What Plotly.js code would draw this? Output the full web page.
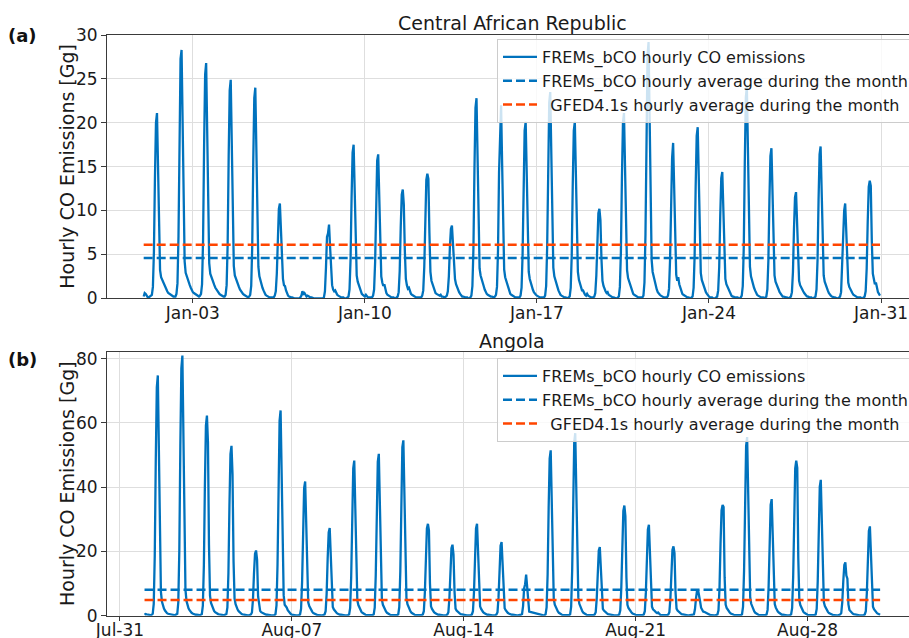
<!DOCTYPE html>
<html>
<head>
<meta charset="utf-8">
<script src="https://cdn.plot.ly/plotly-3.0.1.min.js"></script>
<style>
  html, body { margin: 0; padding: 0; background: #fff; overflow: hidden; width: 909px; height: 638px; }
  #chart { width: 909px; height: 638px; overflow: hidden; }
</style>
</head>
<body>
<div id="chart"></div>
<script>
// FREMs_bCO hourly CO emissions [Gg], one row per day, hours 00..23 (UTC)
const carHourly = [
  [0.2,0.6,0.5,0.3,0.1,0.1,0.2,0.2,0.4,1.3,5.3,13.7,20.0,21.1,14.8,7.4,3.2,2.4,2.1,1.8,1.6,1.2,1.0,0.8],
  [0.6,0.5,0.4,0.3,0.3,0.2,0.2,0.2,0.5,1.7,7.1,18.4,27.3,28.3,19.8,9.9,4.2,2.9,2.5,2.1,1.8,1.5,1.2,0.9],
  [0.7,0.6,0.5,0.4,0.3,0.3,0.2,0.3,0.5,1.6,6.7,17.4,25.5,26.8,18.8,9.4,4.0,2.8,2.4,2.0,1.7,1.5,1.2,1.0],
  [0.8,0.6,0.5,0.4,0.3,0.2,0.2,0.2,0.4,1.5,6.2,16.2,23.7,24.9,17.4,8.7,3.7,2.6,2.2,1.9,1.7,1.3,1.0,0.8],
  [0.6,0.5,0.4,0.3,0.2,0.2,0.1,0.2,0.4,1.4,6.0,15.6,22.8,24.0,16.8,8.4,3.6,2.5,2.0,1.6,1.2,0.9,0.6,0.4],
  [0.3,0.2,0.2,0.1,0.1,0.1,0.1,0.1,0.3,0.8,2.8,7.0,10.2,10.8,7.6,4.0,2.2,1.5,1.4,0.9,0.5,0.3,0.2,0.1],
  [0.1,0.1,0.0,0.0,0.0,0.0,0.0,0.0,0.0,0.1,0.3,0.8,0.5,0.6,0.3,0.2,0.3,0.2,0.1,0.1,0.1,0.0,0.0,0.0],
  [0.0,0.0,0.0,0.0,0.0,0.0,0.0,0.0,0.1,0.8,3.5,7.0,7.4,8.4,5.9,3.1,1.5,1.0,0.8,0.9,0.6,0.4,0.3,0.2],
  [0.2,0.1,0.1,0.1,0.0,0.0,0.0,0.1,0.2,1.0,4.4,11.4,16.6,17.5,12.3,6.1,2.6,1.9,1.5,1.2,0.9,0.5,0.4,0.3],
  [0.2,0.4,0.2,0.1,0.1,0.1,0.1,0.1,0.3,1.0,4.1,10.7,15.7,16.4,11.5,5.7,2.5,1.8,1.4,1.6,1.0,0.6,0.4,0.3],
  [0.2,0.1,0.1,0.1,0.1,0.0,0.0,0.1,0.2,0.7,3.1,8.1,11.8,12.4,10.7,5.5,2.2,1.5,1.1,1.2,0.8,0.5,0.4,0.3],
  [0.2,0.2,0.1,0.1,0.1,0.1,0.1,0.1,0.3,0.9,3.6,9.2,13.5,14.2,13.6,7.5,3.0,2.0,1.6,1.3,1.1,0.6,0.5,0.4],
  [0.3,0.3,0.4,0.2,0.2,0.1,0.1,0.2,0.3,0.8,2.5,5.8,7.9,8.3,5.9,4.0,2.2,1.6,1.2,0.9,0.7,0.5,0.3,0.2],
  [0.2,0.1,0.1,0.1,0.1,0.0,0.0,0.1,0.3,1.4,5.7,14.8,21.7,22.8,16.0,8.0,3.4,2.6,2.1,1.8,1.4,1.0,0.7,0.5],
  [0.4,0.3,0.3,0.2,0.2,0.1,0.1,0.2,0.4,1.3,5.5,14.3,19.6,22.0,15.4,7.7,3.3,2.4,2.0,1.6,1.2,0.8,0.5,0.4],
  [0.3,0.2,0.2,0.1,0.1,0.1,0.1,0.1,0.3,1.2,5.0,13.1,19.1,20.1,14.1,7.0,3.0,2.2,1.7,1.3,1.0,0.7,0.5,0.4],
  [0.3,0.2,0.2,0.1,0.1,0.1,0.1,0.1,0.3,1.4,5.9,15.3,22.3,23.5,16.5,8.2,3.5,2.5,2.0,1.7,1.3,0.9,0.6,0.4],
  [0.3,0.2,0.1,0.1,0.1,0.0,0.0,0.1,0.2,1.2,5.0,13.1,19.1,20.1,14.1,7.0,3.0,2.1,1.6,1.2,0.9,0.9,0.6,0.4],
  [0.3,0.5,0.3,0.2,0.1,0.1,0.1,0.1,0.2,0.6,2.6,6.6,9.7,10.2,8.9,4.5,2.0,1.4,1.0,0.8,0.6,0.7,0.4,0.3],
  [0.2,0.1,0.1,0.1,0.0,0.0,0.0,0.1,0.2,1.3,5.3,13.7,20.0,21.1,14.8,7.4,3.2,2.3,1.9,1.5,1.2,0.8,0.5,0.4],
  [0.3,0.2,0.2,0.1,0.1,0.1,0.1,0.1,0.3,1.8,7.3,19.0,27.7,29.2,20.4,10.2,4.4,3.0,2.4,1.9,1.4,1.0,0.7,0.5],
  [0.4,0.3,0.2,0.2,0.1,0.1,0.1,0.1,0.3,1.1,4.4,11.5,16.0,17.7,12.4,6.2,2.7,2.0,2.4,1.6,1.2,0.8,0.5,0.4],
  [0.3,0.2,0.2,0.1,0.1,0.0,0.0,0.1,0.2,1.2,4.9,12.7,18.5,19.5,13.7,6.8,2.9,2.1,1.7,1.3,1.0,0.7,0.5,0.3],
  [0.2,0.1,0.1,0.1,0.0,0.0,0.0,0.1,0.2,0.9,3.6,9.4,13.7,14.4,10.1,5.0,2.2,1.6,1.3,1.0,0.8,0.5,0.3,0.2],
  [0.2,0.1,0.1,0.1,0.1,0.0,0.0,0.1,0.3,1.4,6.0,15.7,22.9,24.1,16.9,8.4,3.6,2.5,2.0,1.6,1.2,0.9,0.6,0.4],
  [0.3,0.2,0.2,0.1,0.1,0.1,0.0,0.1,0.2,1.0,4.3,11.1,16.2,17.1,12.0,6.0,2.6,1.9,1.5,1.2,1.0,0.7,0.5,0.3],
  [0.2,0.2,0.1,0.1,0.1,0.0,0.0,0.1,0.2,0.7,3.0,7.9,11.5,12.1,8.5,4.2,2.0,1.5,1.2,1.0,0.8,0.6,0.4,0.3],
  [0.2,0.2,0.1,0.1,0.1,0.0,0.0,0.1,0.2,1.0,4.3,11.2,16.4,17.3,12.1,6.1,2.6,1.9,1.5,1.2,0.9,0.6,0.4,0.3],
  [0.2,0.1,0.1,0.1,0.0,0.0,0.0,0.1,0.2,0.7,3.5,8.0,10.0,10.8,7.6,3.8,1.8,1.3,1.0,0.8,0.6,0.4,0.3,0.2],
  [0.2,0.1,0.1,0.1,0.1,0.0,0.0,0.1,0.2,0.8,3.4,8.7,12.7,13.4,12.8,6.5,2.8,2.2,1.6,1.8,1.1,0.7,0.5,0.3]
];

const angHourly = [
  [0.3,0.5,0.4,0.3,0.2,0.2,0.2,0.3,0.6,3.7,18.7,48.6,71.1,74.8,48.6,18.7,7.5,4.4,3.1,2.2,1.6,1.1,0.8,0.6],
  [0.5,0.4,0.3,0.3,0.2,0.2,0.2,0.3,0.6,4.1,20.3,52.7,77.0,81.0,52.7,20.3,8.1,4.6,3.2,2.3,1.7,1.2,0.9,0.7],
  [0.5,0.4,0.3,0.3,0.2,0.2,0.2,0.3,0.5,3.1,15.6,40.5,59.2,62.3,54.0,22.0,6.2,4.0,2.9,2.1,1.5,1.1,0.8,0.6],
  [0.5,0.4,0.3,0.2,0.2,0.2,0.2,0.3,0.5,2.6,13.2,34.4,50.3,52.9,44.0,17.0,5.3,3.6,2.6,1.9,1.4,1.0,0.7,0.5],
  [0.4,0.3,0.3,0.2,0.2,0.1,0.1,0.2,0.4,1.0,5.1,13.2,19.3,20.3,17.5,6.0,2.5,1.5,1.1,0.9,0.7,0.5,0.4,0.3],
  [0.3,0.2,0.2,0.2,0.1,0.1,0.1,0.2,0.5,3.2,16.0,41.5,60.7,63.9,41.5,16.0,6.4,3.4,3.0,2.5,1.7,1.2,0.8,0.5],
  [0.3,0.2,0.2,0.1,0.1,0.1,0.1,0.2,0.4,2.1,10.5,27.2,39.7,41.8,27.2,10.5,4.2,3.0,2.2,1.6,1.2,0.8,0.6,0.4],
  [0.3,0.2,0.2,0.1,0.1,0.1,0.1,0.2,0.4,1.4,6.8,17.7,25.9,27.3,17.7,6.8,2.7,2.0,1.5,1.1,0.8,0.6,0.4,0.3],
  [0.3,0.2,0.2,0.1,0.1,0.1,0.1,0.2,0.4,2.4,12.1,31.4,45.9,48.3,31.4,12.1,4.8,3.3,2.4,1.7,1.2,0.9,0.6,0.4],
  [0.3,0.2,0.2,0.1,0.1,0.1,0.1,0.2,0.4,2.5,12.6,32.8,47.9,50.4,32.8,12.6,5.0,3.4,2.5,1.8,1.3,0.9,0.6,0.4],
  [0.3,0.2,0.2,0.1,0.1,0.1,0.1,0.2,0.4,2.7,13.7,35.5,52.5,54.6,35.5,13.7,5.5,3.6,2.6,1.9,1.3,0.9,0.6,0.4],
  [0.3,0.2,0.2,0.1,0.1,0.1,0.1,0.2,0.4,1.4,7.2,18.6,27.2,28.6,26.5,10.0,2.9,2.1,1.5,1.1,0.8,0.6,0.4,0.3],
  [0.3,0.2,0.2,0.1,0.1,0.1,0.1,0.2,0.4,1.1,5.5,14.4,21.0,22.1,19.0,7.5,2.2,1.6,1.2,0.9,0.7,0.5,0.4,0.3],
  [0.3,0.2,0.2,0.1,0.1,0.1,0.1,0.2,0.4,1.4,7.2,18.6,27.2,28.6,18.6,7.2,2.9,2.1,1.5,1.1,0.8,0.6,0.4,0.3],
  [0.3,0.2,0.2,0.1,0.1,0.1,0.1,0.2,0.4,1.1,5.7,14.9,21.8,22.9,14.9,5.7,2.3,1.7,1.2,0.9,0.7,0.5,0.4,0.3],
  [0.3,0.2,0.2,0.1,0.1,0.1,0.1,0.2,0.3,0.5,3.0,8.5,9.8,12.8,8.3,3.2,1.3,1.2,1.1,1.1,1.0,0.9,0.8,0.6],
  [0.5,0.4,0.3,0.2,0.2,0.1,0.1,0.2,0.4,2.6,12.9,33.5,48.9,51.5,33.5,12.9,5.2,3.4,2.5,1.8,1.3,0.9,0.6,0.4],
  [0.3,0.2,0.2,0.1,0.1,0.1,0.1,0.2,0.4,2.8,14.2,36.9,54.0,56.8,36.9,14.2,5.7,3.7,2.7,1.9,1.3,0.9,0.6,0.4],
  [0.3,0.2,0.2,0.1,0.1,0.1,0.1,0.2,0.4,1.1,5.4,13.9,20.3,21.4,13.9,5.4,2.1,1.6,1.2,0.9,0.7,0.5,0.4,0.3],
  [0.3,0.2,0.2,0.1,0.1,0.1,0.1,0.2,0.4,1.7,8.6,22.3,32.6,34.3,31.0,12.0,3.4,2.4,1.8,1.3,1.0,0.7,0.5,0.3],
  [0.3,0.2,0.2,0.1,0.1,0.1,0.1,0.2,0.4,1.4,7.1,18.4,26.9,28.3,18.4,7.1,2.8,2.0,1.5,1.4,1.0,0.8,1.0,0.5],
  [0.3,0.2,0.2,0.1,0.1,0.1,0.1,0.2,0.4,1.1,5.4,14.0,20.5,21.6,19.5,7.5,2.2,1.6,1.2,0.9,0.7,0.5,0.4,0.3],
  [0.3,0.2,0.2,0.1,0.1,0.1,0.1,0.2,0.3,0.4,2.0,5.3,7.7,8.1,5.5,4.5,2.5,1.6,1.3,1.2,1.0,0.8,0.6,0.4],
  [0.3,0.2,0.2,0.1,0.1,0.1,0.1,0.2,0.4,1.7,8.6,22.4,32.8,34.5,33.8,12.0,3.5,2.4,1.8,1.3,1.0,0.7,0.5,0.3],
  [0.3,0.2,0.2,0.1,0.1,0.1,0.1,0.2,0.4,2.8,13.9,36.1,52.8,55.6,36.1,13.9,5.6,3.7,2.7,1.9,1.3,0.9,0.6,0.4],
  [0.3,0.2,0.2,0.1,0.1,0.1,0.1,0.2,0.4,1.8,9.1,23.6,34.5,36.3,23.6,9.1,3.6,2.5,1.8,1.3,1.0,0.7,0.5,0.3],
  [0.3,0.2,0.2,0.1,0.1,0.1,0.1,0.2,0.4,2.4,12.1,31.4,45.9,48.3,46.0,18.0,4.8,3.3,2.4,1.7,1.2,0.9,0.6,0.4],
  [0.3,0.2,0.2,0.1,0.1,0.1,0.1,0.2,0.4,2.1,10.6,27.5,40.2,42.3,27.5,10.6,4.2,3.0,2.2,1.6,1.2,0.8,0.6,0.4],
  [0.3,0.2,0.2,0.1,0.1,0.1,0.1,0.2,0.4,0.8,4.2,10.8,15.8,16.6,12.5,11.5,3.5,1.8,1.3,1.0,0.7,0.5,0.4,0.3],
  [0.3,0.2,0.2,0.1,0.1,0.1,0.1,0.2,0.4,1.4,7.0,18.1,26.4,27.8,18.1,7.0,2.8,2.0,1.5,1.1,0.8,0.6,0.4,0.3]
];

const carStart = "2019-01-01";
const angStart = "2019-08-01";

// monthly mean hourly emissions [Gg]
const carFremsMean = 4.6;
const carGfedMean = 6.1;
const angFremsMean = 8.1;
const angGfedMean = 4.9;

const carTickVals = ["2019-01-03", "2019-01-10", "2019-01-17", "2019-01-24", "2019-01-31"];
const carTickText = ["Jan-03", "Jan-10", "Jan-17", "Jan-24", "Jan-31"];
const angTickVals = ["2019-07-31", "2019-08-07", "2019-08-14", "2019-08-21", "2019-08-28"];
const angTickText = ["Jul-31", "Aug-07", "Aug-14", "Aug-21", "Aug-28"];

const seriesNames = [
  "FREMs_bCO hourly CO emissions",
  "FREMs_bCO hourly average during the month",
  "\u00a0\u2009GFED4.1s hourly average during the month"
];

const BLUE = "#0072bd";
const ORANGE = "#ff4500";
const FONT = "DejaVu Sans, sans-serif";

const hourStamps = (start, n) => {
  const t0 = Date.parse(start + "T00:00:00Z");
  const out = [];
  for (let i = 0; i < n; i++) {
    out.push(new Date(t0 + i * 3600e3).toISOString().slice(0, 16).replace("T", " "));
  }
  return out;
};

const panelTraces = (rows, start, fremsMean, gfedMean, xa, ya, legend) => {
  const y = rows.flat();
  const x = hourStamps(start, y.length);
  const ends = [x[0], x[x.length - 1]];
  return [
    {
      x, y, xaxis: xa, yaxis: ya, legend,
      type: "scatter", mode: "lines",
      line: { color: BLUE, width: 2.3 },
      name: seriesNames[0]
    },
    {
      x: ends, y: [fremsMean, fremsMean], xaxis: xa, yaxis: ya, legend,
      type: "scatter", mode: "lines",
      line: { color: BLUE, width: 2.6, dash: "9px,4px" },
      name: seriesNames[1]
    },
    {
      x: ends, y: [gfedMean, gfedMean], xaxis: xa, yaxis: ya, legend,
      type: "scatter", mode: "lines",
      line: { color: ORANGE, width: 2.6, dash: "9px,4px" },
      name: seriesNames[2]
    }
  ];
};

const data = [
  ...panelTraces(carHourly, carStart, carFremsMean, carGfedMean, "x", "y", "legend"),
  ...panelTraces(angHourly, angStart, angFremsMean, angGfedMean, "x2", "y2", "legend2")
];

const W = 909, H = 638;
const px = (v) => v / W;
const py = (v) => 1 - v / H;

const xCommon = {
  type: "date",
  domain: [px(107), 1],
  showgrid: true,
  gridcolor: "#dedede",
  gridwidth: 1,
  showline: true,
  mirror: true,
  linecolor: "#3a3a3a",
  linewidth: 1,
  ticks: "outside",
  ticklen: 4,
  tickcolor: "#3a3a3a",
  ticklabelstandoff: -5,
  tickfont: { family: FONT, size: 17, color: "#1a1a1a" },
  zeroline: false
};

const yCommon = {
  showgrid: true,
  gridcolor: "#dedede",
  gridwidth: 1,
  showline: true,
  linecolor: "#3a3a3a",
  linewidth: 1,
  ticks: "outside",
  ticklen: 5,
  tickcolor: "#3a3a3a",
  tickfont: { family: FONT, size: 17, color: "#1a1a1a" },
  zeroline: false
};

const legendCommon = {
  xanchor: "left",
  yanchor: "top",
  bgcolor: "rgba(255,255,255,0.8)",
  bordercolor: "#cccccc",
  borderwidth: 1,
  font: { family: FONT, size: 16, color: "#1a1a1a" },
  itemwidth: 34
};

const textFont = { family: FONT, size: 19, color: "#1a1a1a" };

const layout = {
  width: W,
  height: H,
  autosize: false,
  margin: { l: 0, r: 0, t: 0, b: 0, autoexpand: false },
  paper_bgcolor: "#ffffff",
  plot_bgcolor: "#ffffff",
  showlegend: true,
  xaxis: {
    ...xCommon,
    anchor: "y",
    range: ["2018-12-30 12:11", "2019-02-01 03:19"],
    tickvals: carTickVals,
    ticktext: carTickText
  },
  yaxis: {
    ...yCommon,
    anchor: "x",
    domain: [py(298.3), py(35)],
    range: [0, 30],
    tickvals: [0, 5, 10, 15, 20, 25, 30]
  },
  xaxis2: {
    ...xCommon,
    anchor: "y2",
    range: ["2019-07-30 11:19", "2019-09-01 03:13"],
    tickvals: angTickVals,
    ticktext: angTickText
  },
  yaxis2: {
    ...yCommon,
    anchor: "x2",
    domain: [py(615.7), py(352.3)],
    range: [0, 82],
    tickvals: [0, 20, 40, 60, 80]
  },
  legend: { ...legendCommon, x: px(497), y: py(39) },
  legend2: { ...legendCommon, x: px(497), y: py(358) },
  annotations: [
    { text: "Central African Republic", x: px(512), y: py(23), xref: "paper", yref: "paper",
      showarrow: false, xanchor: "center", yanchor: "middle", font: textFont },
    { text: "Angola", x: px(512), y: py(341), xref: "paper", yref: "paper",
      showarrow: false, xanchor: "center", yanchor: "middle", font: textFont },
    { text: "Hourly CO Emissions [Gg]", x: px(67), y: py(166.7), xref: "paper", yref: "paper",
      showarrow: false, textangle: -90, xanchor: "center", yanchor: "middle", font: textFont },
    { text: "Hourly CO Emissions [Gg]", x: px(67), y: py(484), xref: "paper", yref: "paper",
      showarrow: false, textangle: -90, xanchor: "center", yanchor: "middle", font: textFont },
    { text: "<b>(a)</b>", x: px(22), y: py(36), xref: "paper", yref: "paper",
      showarrow: false, xanchor: "center", yanchor: "middle",
      font: { family: FONT, size: 18, color: "#111111" } },
    { text: "<b>(b)</b>", x: px(22), y: py(359), xref: "paper", yref: "paper",
      showarrow: false, xanchor: "center", yanchor: "middle",
      font: { family: FONT, size: 18, color: "#111111" } }
  ]
};

Plotly.newPlot("chart", data, layout, { displayModeBar: false, staticPlot: true });
</script>
</body>
</html>
